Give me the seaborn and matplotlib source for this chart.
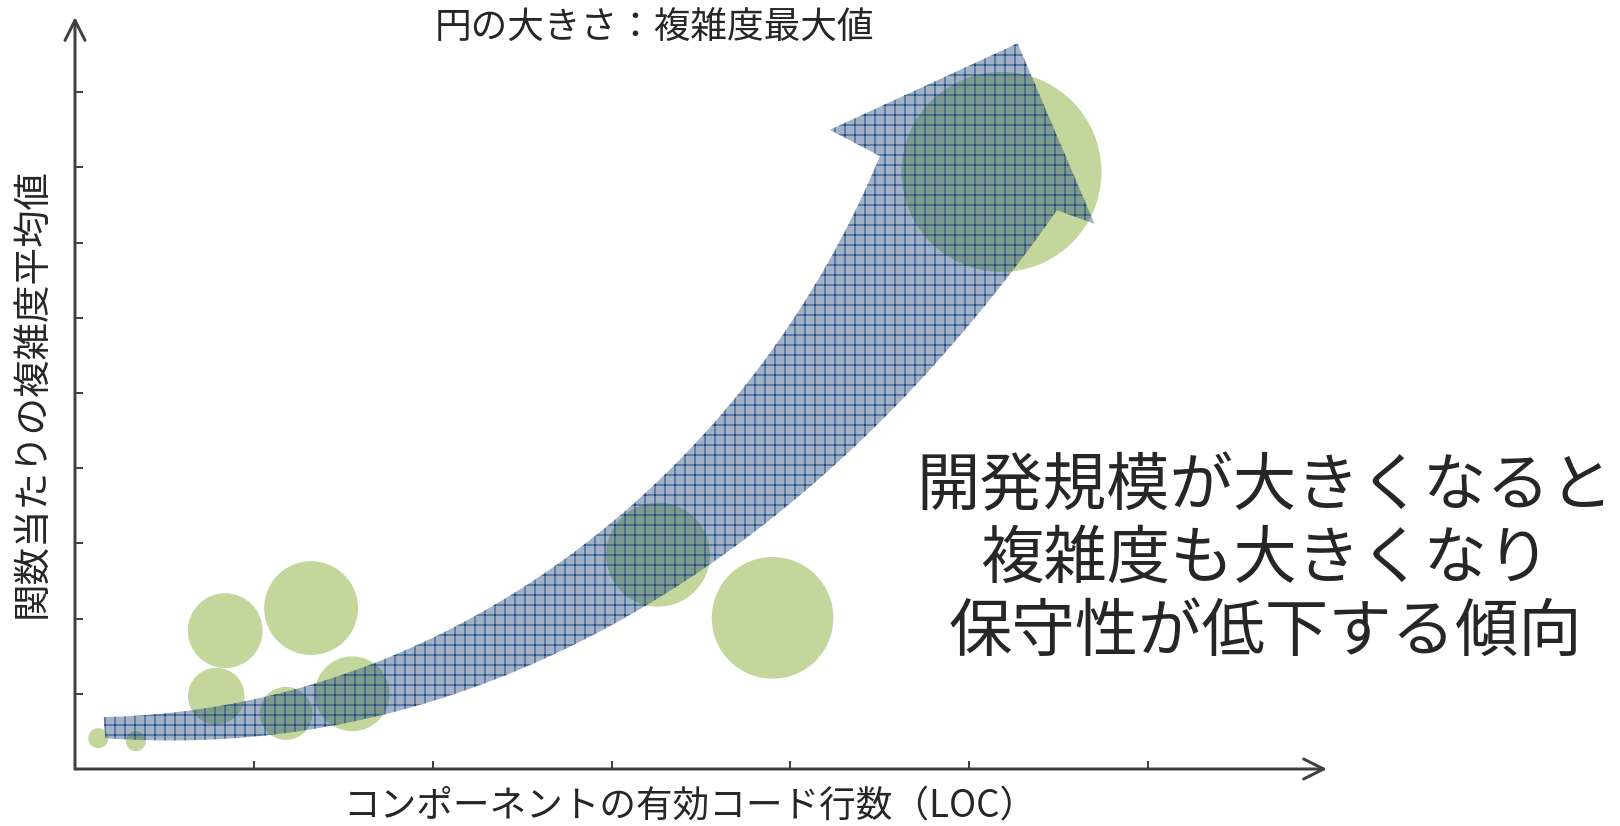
import matplotlib
matplotlib.use("Agg")
import matplotlib.pyplot as plt
from matplotlib.path import Path
from matplotlib.patches import PathPatch
import numpy as np
import pandas as pd
import seaborn as sns

# bubbles: x = LOC, y = mean complexity per function, size = max complexity
loc = [0.13, 0.34, 0.84, 0.79, 1.32, 1.18, 1.55, 3.26, 3.90, 5.18]
avg_complexity = [0.41, 0.37, 1.84, 0.97, 2.14, 0.74, 1.00, 2.85, 2.01, 7.94]
max_complexity = [1, 1, 14, 8, 22, 7, 14, 27, 37, 100]

# trend arrow outline (data coords)
arrow_upper_x = [0.16, 0.66, 1.22, 1.70, 2.26, 2.82, 3.36, 3.64, 3.87, 4.05, 4.27, 4.50]
arrow_upper_y = [0.69, 0.81, 1.09, 1.49, 2.09, 2.71, 4.11, 4.77, 5.48, 6.28, 7.07, 8.15]
arrow_lower_x = [0.17, 0.66, 1.22, 1.70, 2.26, 2.82, 3.27, 3.51, 3.87, 4.24, 4.65, 4.91, 5.18, 5.49]
arrow_lower_y = [0.41, 0.51, 0.65, 0.82, 1.09, 1.49, 2.07, 2.65, 3.27, 4.11, 5.04, 5.84, 6.64, 7.43]
arrow_head_x = [5.70, 5.27, 4.22]
arrow_head_y = [7.25, 9.65, 8.50]

title = "円の大きさ：複雑度最大値"
xlabel = "コンポーネントの有効コード行数（LOC）"
ylabel = "関数当たりの複雑度平均値"
message = ["開発規模が大きくなると", "複雑度も大きくなり", "保守性が低下する傾向"]

sns.set_theme(style="white")
plt.rcParams["font.family"] = ["Noto Sans CJK JP", "DejaVu Sans"]
plt.rcParams["hatch.linewidth"] = 0.6

df = pd.DataFrame({"loc": loc, "avg": avg_complexity, "max": max_complexity})

fig = plt.figure(figsize=(13.5, 826 / 120), dpi=120)
ax = fig.add_axes([75 / 1620, 1 - 769 / 826, (1327 - 75) / 1620, (769 - 17) / 826])

sns.scatterplot(data=df, x="loc", y="avg", size="max", sizes=(0, 14400),
                size_norm=(0, 100), color="#C3D69B", edgecolor="none",
                linewidth=0, alpha=1, legend=False, ax=ax, zorder=2)


def smooth_edge(xs, ys, n=120):
    # smooth the traced outline with a parametric cubic fit
    xs, ys = np.asarray(xs), np.asarray(ys)
    d = np.hypot(np.diff(xs) * 179, np.diff(ys) * 75.2)
    t = np.concatenate([[0], np.cumsum(d)])
    t /= t[-1]
    w = np.ones_like(t)
    w[0] = w[-1] = 20
    px = np.polyfit(t, xs, 3, w=w)
    py = np.polyfit(t, ys, 3, w=w)
    tt = np.linspace(0, 1, n)
    return np.column_stack([np.polyval(px, tt), np.polyval(py, tt)])


lower = smooth_edge(arrow_lower_x, arrow_lower_y)
upper = smooth_edge(arrow_upper_x, arrow_upper_y)[::-1]
head = np.column_stack([arrow_head_x, arrow_head_y])
verts = np.vstack([lower, head, upper, lower[:1]])
codes = [Path.MOVETO] + [Path.LINETO] * (len(verts) - 2) + [Path.CLOSEPOLY]
arrow = PathPatch(Path(verts, codes), facecolor=(31 / 255, 73 / 255, 125 / 255, 0.42),
                  edgecolor="#1F497D", linewidth=0, hatch="++", zorder=3)
ax.add_patch(arrow)

ax.set_xlim(0, 7)
ax.set_ylim(0, 10)
ax.set_xticks(range(1, 7))
ax.set_yticks(range(1, 10))
ax.set_xlabel("")
ax.set_ylabel("")
ax.tick_params(direction="in", length=5, width=1.2, color="#404040",
               bottom=True, left=True, labelbottom=False, labelleft=False)
for s in ax.spines.values():
    s.set_visible(False)

axis_arrow = dict(arrowstyle="->,head_length=0.6,head_width=0.3", lw=1.8,
                  color="#404040", shrinkA=0, shrinkB=0, mutation_scale=20)
ax.annotate("", xy=(1, 0), xytext=(0, 0), xycoords="axes fraction",
            arrowprops=axis_arrow, annotation_clip=False)
ax.annotate("", xy=(0, 1), xytext=(0, 0), xycoords="axes fraction",
            arrowprops=axis_arrow, annotation_clip=False)

fig.text(654 / 1620, 1 - 28 / 826, title, ha="center", va="center", fontsize=22)
fig.text(690 / 1620, 1 - 806 / 826, xlabel, ha="center", va="center", fontsize=22)
fig.text(32 / 1620, 1 - 393 / 826, ylabel, ha="center", va="center", fontsize=22.5,
         rotation=90)
fig.text(1265 / 1620, 1 - 560 / 826, "\n".join(message), ha="center", va="center",
         fontsize=38, linespacing=1.17)

fig.savefig("out.png", dpi=120)
